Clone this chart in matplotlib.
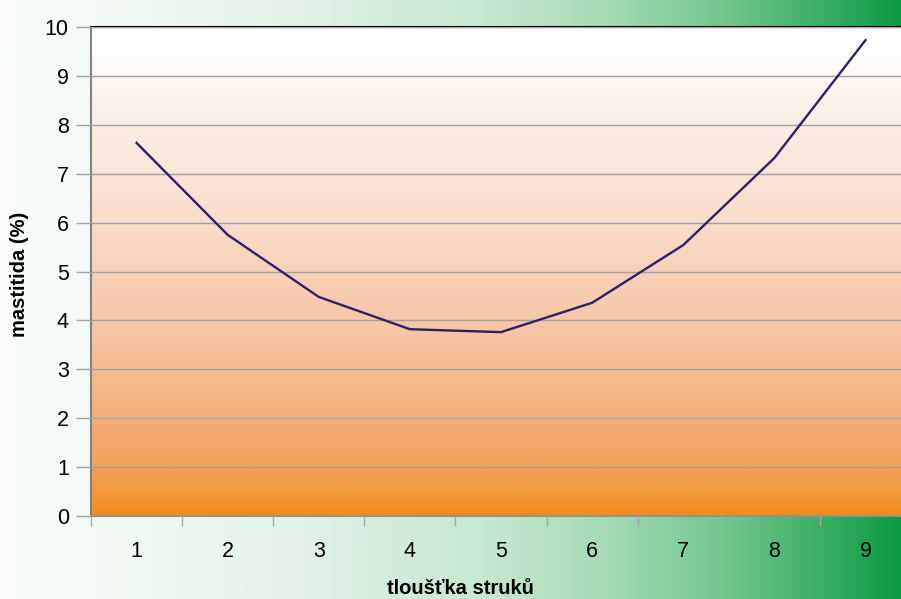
import numpy as np
import matplotlib.pyplot as plt
from matplotlib.colors import LinearSegmentedColormap

plt.rcParams['font.family'] = ['Liberation Sans', 'DejaVu Sans']

# data
categories = [1, 2, 3, 4, 5, 6, 7, 8, 9]
mastitida = [7.63, 5.75, 4.48, 3.82, 3.76, 4.36, 5.54, 7.32, 9.73]
y_ticks = [0, 1, 2, 3, 4, 5, 6, 7, 8, 9, 10]

fig = plt.figure(figsize=(9.01, 5.99), dpi=100)

# figure background: white -> green, left to right
bg = fig.add_axes([0, 0, 1, 1], zorder=-10)
bg_cmap = LinearSegmentedColormap.from_list("bg", [
    (0.0, "#fafdfb"), (0.3, "#e6f4ea"), (0.55, "#c4e7cf"),
    (0.68, "#a3dab3"), (0.82, "#6cc48a"), (1.0, "#0c9a42")])
bg.imshow(np.linspace(0, 1, 512)[None, :], cmap=bg_cmap, aspect="auto",
          extent=[0, 1, 0, 1])
bg.set_axis_off()

ax = fig.add_axes([91 / 901, 83 / 599, 820 / 901, 489 / 599])
ax.patch.set_alpha(0)

# plot area: white top -> orange bottom
pa_cmap = LinearSegmentedColormap.from_list("pa", [
    (0.0, "#f28c18"), (0.05, "#f39a40"), (0.12, "#f3a464"),
    (0.35, "#f6c29f"), (0.6, "#f9dccb"), (0.85, "#fdf2ec"), (0.95, "#ffffff"),
    (1.0, "#ffffff")])
ax.imshow(np.linspace(0, 1, 512)[:, None], cmap=pa_cmap, origin="lower",
          aspect="auto", extent=[0.5, 9.5, 0, 10], zorder=0)

ax.plot(categories, mastitida, color="#2e1f66", lw=1.7, zorder=3)

ax.set_xlim(0.5, 9.5)
ax.set_ylim(0, 10)
ax.set_yticks(y_ticks)
ax.yaxis.grid(True, color="#a0a0a0", lw=1)
ax.set_axisbelow(False)
for gl in ax.get_ygridlines():
    gl.set_zorder(1)

ax.set_xticks(categories)
ax.set_xticklabels([str(c) for c in categories])
ax.set_xticks(np.arange(0.5, 10, 1), minor=True)
ax.tick_params(axis="x", which="major", length=0, pad=18, labelsize=15.5)
ax.tick_params(axis="x", which="minor", length=7, color="#a8a8a8", width=1)
ax.tick_params(axis="y", length=11, color="#a0a0a0", width=1, labelsize=15.5, pad=5)

ax.spines["top"].set_color("black")
ax.spines["top"].set_linewidth(1.5)
ax.spines["left"].set_color("#808080")
ax.spines["left"].set_linewidth(1.5)
ax.spines["bottom"].set_color("#909090")
ax.spines["bottom"].set_linewidth(1.5)
ax.spines["right"].set_visible(False)

fig.text(460 / 901, 1 - 588 / 599, "tloušťka struků", ha="center", va="center",
         fontsize=14.5, fontweight="bold")
fig.text(20 / 901, 1 - 274 / 599, "mastitida (%)", ha="center", va="center",
         rotation=90, fontsize=14.5, fontweight="bold")

fig.savefig("out.png", dpi=100)
